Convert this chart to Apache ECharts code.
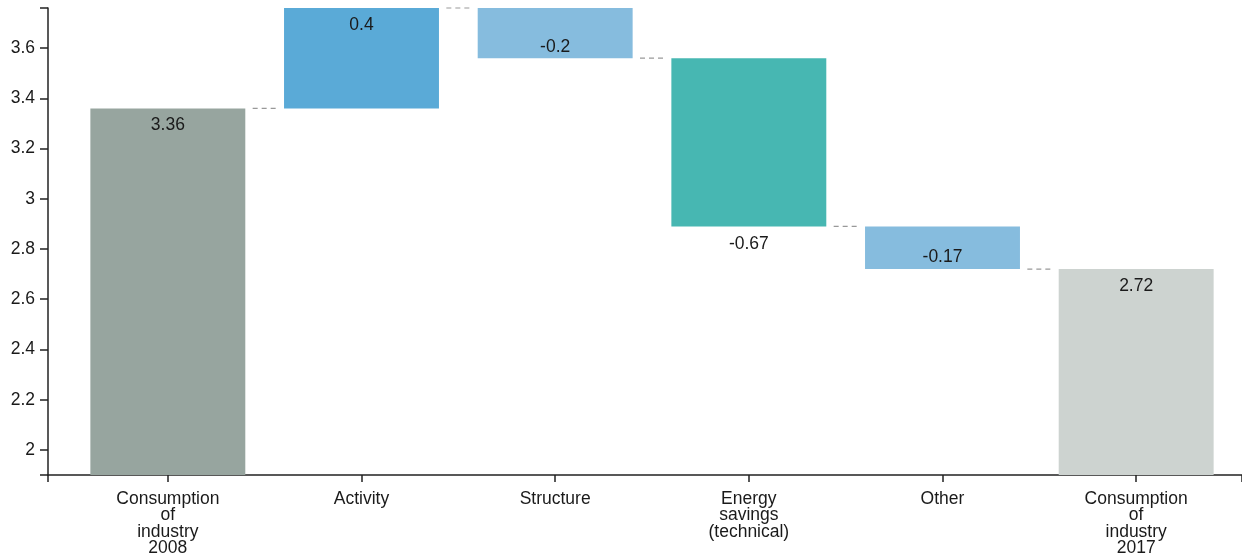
<!DOCTYPE html>
<html>
<head>
<meta charset="utf-8">
<script src="https://cdn.jsdelivr.net/npm/echarts@6/dist/echarts.min.js"></script>
<style>html,body{margin:0;padding:0;background:#fff}#c{width:1242px;height:560px}</style>
</head>
<body>
<div id="c"></div>
<script>
const categories = ['Consumption\nof\nindustry\n2008', 'Activity', 'Structure', 'Energy\nsavings\n(technical)', 'Other', 'Consumption\nof\nindustry\n2017'];
const changes = [3.36, 0.4, -0.2, -0.67, -0.17, 2.72];
const isTotal = [true, false, false, false, false, true];
const barColors = ['#97a59f', '#5aaad7', '#86bcde', '#47b7b2', '#86bcde', '#cdd3d0'];
const yMin = 1.9, yMax = 3.76;

const baseData = [], barData = [], connectors = [];
let running = 0;
changes.forEach((c, i) => {
  let pos, dist;
  if (isTotal[i]) {
    baseData.push('-');
    barData.push({ value: c, itemStyle: { color: barColors[i] } });
    running = c;
    pos = 'insideTop'; dist = 8;
  } else {
    const start = running, end = running + c;
    baseData.push(Math.min(start, end));
    running = end;
    if (c >= 0) { pos = 'insideTop'; dist = 8; }
    else if (Math.abs(c) > 0.5) { pos = 'bottom'; dist = 9; }
    else { pos = 'insideBottom'; dist = 2.5; }
    barData.push({ value: Math.abs(c), itemStyle: { color: barColors[i] } });
  }
  barData[i].label = { position: pos, distance: dist };
  if (i < changes.length - 1) connectors.push([i, +running.toFixed(4)]);
});

const txt = '#1a1a1a';
const font = 'Liberation Sans, Arial, sans-serif';
const fs = 17.5;
const chart = echarts.init(document.getElementById('c'), null, { renderer: 'canvas' });
chart.setOption({
  animation: false,
  grid: [
    { left: 71, right: 9, top: 8, bottom: 85 },
    { left: 48, right: -40, top: 8, bottom: 85 }
  ],
  xAxis: [
    {
      type: 'category', gridIndex: 0, data: categories, boundaryGap: true,
      axisLine: { show: false },
      axisTick: { show: true, alignWithLabel: true, length: 7, lineStyle: { color: '#222', width: 1.5 } },
      axisLabel: { color: txt, fontFamily: font, fontSize: fs, lineHeight: 16.3, margin: 16, interval: 0 }
    },
    {
      type: 'value', gridIndex: 1, min: 0, max: 1, interval: 1,
      axisLine: { show: true, lineStyle: { color: '#222', width: 1.5 } },
      axisTick: { show: true, length: 7, lineStyle: { color: '#222', width: 1.5 } },
      axisLabel: { show: false }, splitLine: { show: false }
    }
  ],
  yAxis: [
    { type: 'value', gridIndex: 0, min: yMin, max: yMax, show: false, splitLine: { show: false } },
    {
      type: 'value', gridIndex: 1, min: yMin, max: yMax, splitNumber: 9,
      axisLine: { show: true, lineStyle: { color: '#222', width: 1.5 } },
      axisTick: { show: true, length: 8, lineStyle: { color: '#222', width: 1.5 } },
      axisLabel: { color: txt, fontFamily: font, fontSize: fs, margin: 13, showMinLabel: false, showMaxLabel: false,
        formatter: v => (Math.abs(v * 5 - Math.round(v * 5)) < 1e-6 ? String(+v.toFixed(1)) : '') },
      splitLine: { show: false }
    },
    {
      type: 'value', gridIndex: 1, position: 'left', min: 0, max: 1, interval: 1,
      axisLine: { show: false },
      axisTick: { show: true, length: 8, lineStyle: { color: '#222', width: 1.5 } },
      axisLabel: { show: false }, splitLine: { show: false }
    }
  ],
  series: [
    {
      type: 'bar', stack: 'w', xAxisIndex: 0, yAxisIndex: 0, data: baseData,
      itemStyle: { color: 'transparent' }, barCategoryGap: '20%', silent: true
    },
    {
      type: 'bar', stack: 'w', xAxisIndex: 0, yAxisIndex: 0, data: barData, barCategoryGap: '20%',
      label: {
        show: true, color: txt, fontFamily: font, fontSize: fs,
        formatter: p => String(changes[p.dataIndex])
      }
    },
    {
      type: 'custom', xAxisIndex: 0, yAxisIndex: 0, data: connectors, encode: { x: 0, y: 1 },
      renderItem: (params, api) => {
        const p = api.coord([api.value(0), api.value(1)]);
        const w = api.size([1, 0])[0];
        const x = p[0] + w / 2;
        return { type: 'line', shape: { x1: x - 12, y1: p[1], x2: x + 12, y2: p[1] },
          style: { stroke: '#999', lineWidth: 1.2, lineDash: [5, 4] } };
      }
    }
  ]
});
</script>
</body>
</html>
